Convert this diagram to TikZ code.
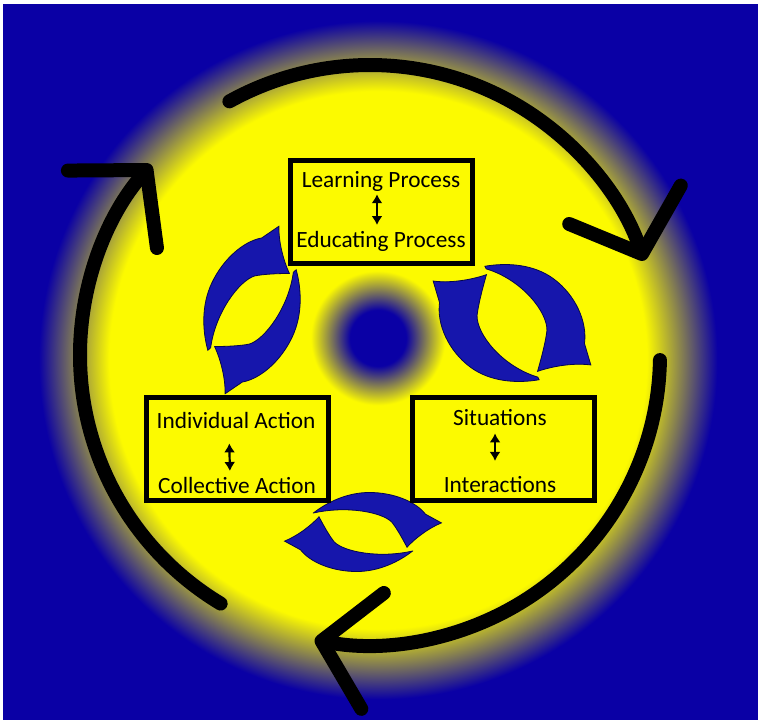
\documentclass[tikz,border=0pt]{standalone}
\usepackage{fontspec}
\setmainfont{Carlito}
\usetikzlibrary{arrows.meta}
\definecolor{navy}{RGB}{10,0,165}
\definecolor{gold}{RGB}{252,250,0}
\definecolor{swirlblue}{RGB}{22,22,172}
\definecolor{swirledge}{RGB}{5,5,80}
% radius of the shaded circle = 25bp
\pgfdeclareradialshading{glow}{\pgfpointorigin}{color(0bp)=(gold); color(16bp)=(gold); color(20.2bp)=(navy); color(50bp)=(navy)}
\pgfdeclareradialshading{dot}{\pgfpointorigin}{color(0bp)=(navy); color(10bp)=(navy); color(24bp)=(gold); color(50bp)=(gold)}
\begin{document}
\begin{tikzpicture}[x=1pt,y=-1pt,
  font=\fontsize{23.3}{27}\selectfont,
  stage/.style={draw,line width=5pt,fill=gold,minimum width=182pt,minimum height=103pt,inner sep=0pt},
  lbl/.style={inner sep=0pt,anchor=base},
  swap/.style={{Latex[length=9pt,width=11pt]}-{Latex[length=9pt,width=11pt]},line width=2.2pt},
  cyc/.style={line width=14pt,line cap=round,-{Straight Barb[length=52pt,width=118pt,round]}},
  swirl/.style={fill=swirlblue,draw=swirledge,line width=0.8pt},
]
\useasboundingbox (0,0) rectangle (758,720);
% background glow
\fill[white] (0,0) rectangle (758,720);
\begin{scope}
  \clip (3,4) rectangle (758,720);
  \fill[navy] (3,4) rectangle (758,720);
  \shade[shading=glow] (378,360) circle[radius=420];
  \shade[shading=dot] (378,338) circle[radius=70];
\end{scope}
% outer cycle
\coordinate (ctr) at (370,355);
\foreach \a in {-119,1,121}
  \draw[cyc] (ctr) ++(\a:290) arc[start angle=\a,delta angle=100,radius=290];
% swirl pairs between the stages
\foreach \cx/\cy/\rot/\sx/\sy in {363/532/0/80/38, 512/323/-37/90/58, 252/310/65/89/46}{
  \begin{scope}[shift={(\cx,\cy)},rotate=\rot,xscale=\sx,yscale=\sy]
    \foreach \h in {0,180}
      \path[swirl,rotate=\h] (0.62,0.5) .. controls (0.45,0.78) and (0.2,1.04) .. (-0.08,1.04)
        .. controls (-0.38,1.04) and (-0.66,0.8) .. (-0.78,0.47) -- (-0.98,0.24)
        .. controls (-0.82,0.1) and (-0.66,-0.15) .. (-0.55,-0.4)
        .. controls (-0.48,-0.12) and (-0.42,0.1) .. (-0.36,0.26)
        .. controls (-0.24,0.52) and (0.2,0.7) .. cycle;
  \end{scope}
}
% stages
\node[stage] (b1) at (381,212) {};
\node[stage] (b2) at (237.5,449) {};
\node[stage] (b3) at (503,448.5) {};
\node[lbl] (lp) at (381,187) {Learning Process};
\node[lbl] (ep) at (381,247) {Educating Process};
\node[lbl] (ia) at (236,428) {Individual Action};
\node[lbl] (ca) at (237,493) {Collective Action};
\node[lbl] (si) at (500,425) {Situations};
\node[lbl] (it) at (500,492) {Interactions};
\foreach \u/\v/\dx/\s/\t in {lp/ep/-4/3/5.6, ia/ca/-7/15/5.6, si/it/-5/8/14.8}
  \draw[swap,shorten <=\s pt,shorten >=\t pt] ([xshift=\dx pt]\u.south) -- ([xshift=\dx pt]\v.north);
\end{tikzpicture}
\end{document}
